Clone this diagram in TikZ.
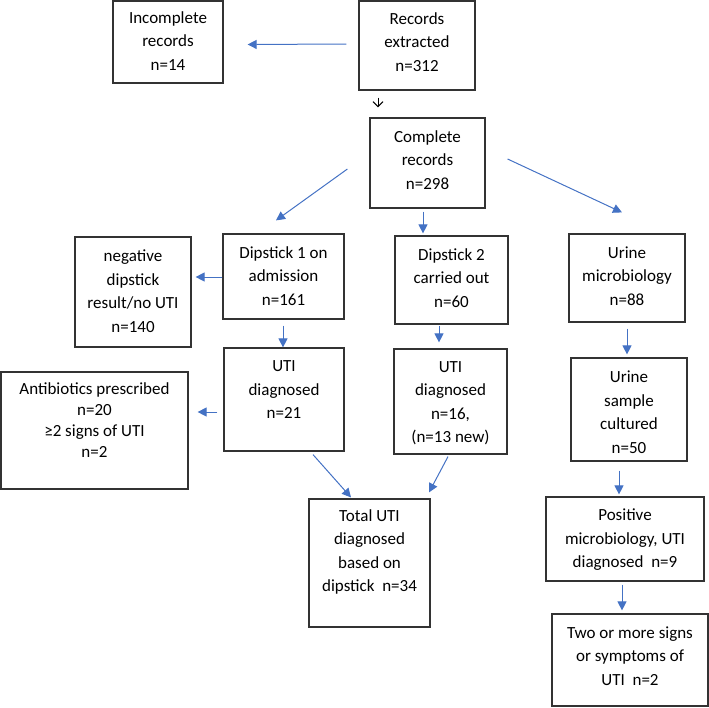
\documentclass[tikz,border=0pt]{standalone}
\usepackage{fontspec}
\setmainfont{Carlito}
\usetikzlibrary{arrows.meta}
\definecolor{arrblue}{HTML}{4472C4}
\definecolor{boxline}{HTML}{333333}
\tikzset{
  box/.style={draw=boxline, line width=1.2pt, inner sep=0pt, fill=none},
  txt/.style={align=center, inner sep=0pt, text=black, font=\fontsize{17}{23.5}\selectfont},
  txtb/.style={align=center, inner sep=0pt, text=black, font=\fontsize{17}{21}\selectfont},
  arr/.style={draw=arrblue, line width=1pt, -{Triangle[length=9pt,width=9pt]}},
  blk/.style={draw=black, line width=1pt, -{Straight Barb[length=5pt,width=10pt]}}
}
\begin{document}
\begin{tikzpicture}[x=1pt,y=-1pt]
\useasboundingbox (0,0) rectangle (709,707);
% boxes
\node[box, minimum width=110, minimum height=82] (inc) at (168,42) {};
\node[box, minimum width=116, minimum height=89] (rec) at (417,45.5) {};
\node[box, minimum width=115, minimum height=90] (comp) at (427.5,163) {};
\node[box, minimum width=116, minimum height=110] (neg) at (133,292) {};
\node[box, minimum width=121, minimum height=85] (dip1) at (283.5,276.5) {};
\node[box, minimum width=113, minimum height=88] (dip2) at (451.5,280) {};
\node[box, minimum width=116, minimum height=88] (uri) at (627,278) {};
\node[box, minimum width=120, minimum height=103] (uti1) at (284,399.5) {};
\node[box, minimum width=113, minimum height=105] (uti2) at (450.5,401.5) {};
\node[box, minimum width=116, minimum height=103] (cult) at (629,409.5) {};
\node[box, minimum width=187, minimum height=117] (anti) at (94.5,430.5) {};
\node[box, minimum width=121, minimum height=128] (total) at (369.5,563) {};
\node[box, minimum width=158, minimum height=84] (pos) at (625,539) {};
\node[box, minimum width=156, minimum height=92] (two) at (630,660) {};
% texts
\node[txt] (inc-t) at (168,41) {Incomplete\\records\\n=14};
\node[txt] (rec-t) at (417,42) {Records\\extracted\\n=312};
\node[txt] (comp-t) at (427.5,160) {Complete\\records\\n=298};
\node[txt] (neg-t) at (133,291) {negative\\dipstick\\result/no UTI\\n=140};
\node[txt] (dip1-t) at (283.5,276) {Dipstick 1 on\\admission\\n=161};
\node[txt] (dip2-t) at (451.5,278) {Dipstick 2\\carried out\\n=60};
\node[txt] (uri-t) at (627,276) {Urine\\microbiology\\n=88};
\node[txt] (uti1-t) at (284,390) {UTI\\diagnosed\\n=21};
\node[txt] (uti2-t) at (450.5,403) {UTI\\diagnosed\\n=16,\\(n=13 new)};
\node[txt] (cult-t) at (629,412) {Urine\\sample\\cultured\\n=50};
\node[txtb] (anti-t) at (94.5,420) {Antibiotics prescribed\\n=20\\≥2 signs of UTI\\n=2};
\node[txt] (total-t) at (369.5,552) {Total UTI\\diagnosed\\based on\\dipstick~ n=34};
\node[txt] (pos-t) at (625,540) {Positive\\microbiology, UTI\\diagnosed~ n=9};
\node[txt] (two-t) at (630,656) {Two or more signs\\or symptoms of\\UTI~ n=2};
% connectors
\draw[arr] ([shift={(-12,-1.5)}]rec.west) -- ([shift={(24,2.5)}]inc.east);
\draw[blk] ([shift={(-39,7)}]rec.south) -- ([shift={(-49.5,-10)}]comp.north);
\draw[arr] ([shift={(-22,6)}]comp.west) -- ([shift={(-7.5,-13)}]dip1.north);
\draw[arr] ([shift={(-4.5,3)}]comp.south) -- ([shift={(-28.5,-2)}]dip2.north);
\draw[arr] ([shift={(22,-4)}]comp.east) -- ([shift={(-5,-21)}]uri.north);
\draw[arr] ([shift={(0,0.5)}]dip1.west) -- ([shift={(4,-15)}]neg.east);
\draw[arr] ([shift={(-0.5,6)}]dip1.south) -- ([shift={(-1,0)}]uti1.north);
\draw[arr] ([shift={(-12.5,1)}]dip2.south) -- ([shift={(-11.5,-6)}]uti2.north);
\draw[arr] ([shift={(0,6)}]uri.south) -- ([shift={(-2,-3)}]cult.north);
\draw[arr] ([shift={(-6,12.5)}]uti1.west) -- ([shift={(9,-18.5)}]anti.east);
\draw[arr] ([shift={(29,3)}]uti1.south) -- ([shift={(-18.5,-1)}]total.north);
\draw[arr] ([shift={(-2.5,2)}]uti2.south) -- ([shift={(59.5,-6)}]total.north);
\draw[arr] ([shift={(-10,9)}]cult.south) -- ([shift={(-6,-2)}]pos.north);
\draw[arr] ([shift={(-3,3)}]pos.south) -- ([shift={(-8,-3)}]two.north);
\end{tikzpicture}
\end{document}
